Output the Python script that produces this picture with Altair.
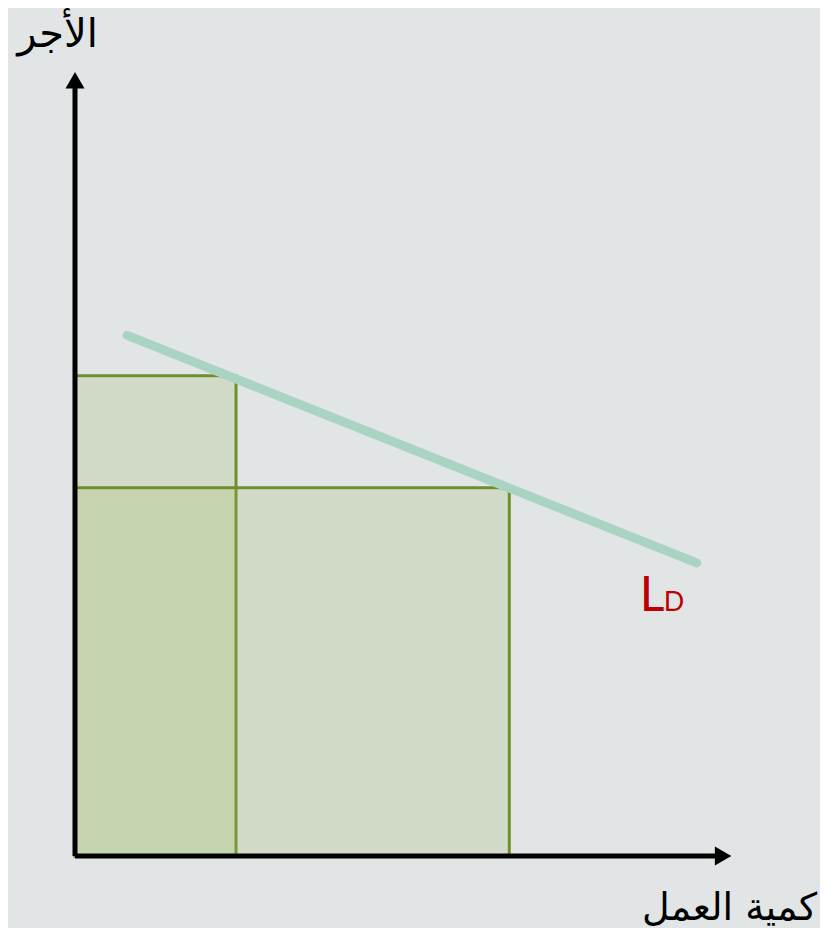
import altair as alt
import pandas as pd

# --- data ---
rect_names = ["small", "large"]
rect_quantity = [24.4, 65.8]   # labour quantity at each box's right edge
rect_wage = [60.8, 46.6]       # wage at each box's top edge

ld_quantity = [7.9, 94.2]      # labour demand curve endpoints
ld_wage = [65.9, 37.1]

axis_end = 98.2                # arrow tip region of both axes

rects = pd.DataFrame({"name": rect_names, "q0": [0, 0], "q1": rect_quantity,
                      "w0": [0, 0], "w1": rect_wage})
ld = pd.DataFrame({"q": ld_quantity, "w": ld_wage})
ld_end = pd.DataFrame({"q": [ld_quantity[-1]], "w": [ld_wage[-1]]})
y_axis_df = pd.DataFrame({"q": [0, 0], "w": [0, axis_end]})
x_axis_df = pd.DataFrame({"q": [0, axis_end], "w": [0, 0]})
y_tip = pd.DataFrame({"q": [0], "w": [axis_end]})
x_tip = pd.DataFrame({"q": [axis_end], "w": [0]})

xs = alt.Scale(domain=[0, 100], nice=False, zero=False)
ys = alt.Scale(domain=[0, 100], nice=False, zero=False)

arabic_font = "DejaVu Sans"

x_axis = alt.Axis(domain=False, ticks=False, labels=False, grid=False,
                  title="كمية العمل", titleAngle=0, titleX=654, titleY=52,
                  titleAlign="center", titleBaseline="middle",
                  titleFont=arabic_font, titleFontSize=38,
                  titleFontWeight="normal", titleColor="#000000")
y_axis = alt.Axis(domain=False, ticks=False, labels=False, grid=False,
                  title="الأجر", titleAngle=0, titleX=-18, titleY=-32,
                  titleAlign="center", titleBaseline="middle",
                  titleFont=arabic_font, titleFontSize=40,
                  titleFontWeight="normal", titleColor="#000000")

boxes = alt.Chart(rects).mark_rect(
    fill="#9bbb59", fillOpacity=0.22, stroke="#6f8f2c", strokeWidth=3
).encode(
    x=alt.X("q0:Q", scale=xs, axis=x_axis),
    x2="q1:Q",
    y=alt.Y("w0:Q", scale=ys, axis=y_axis),
    y2="w1:Q",
)

demand = alt.Chart(ld).mark_line(
    color="#a9d3c3", strokeWidth=9, strokeCap="round"
).encode(x=alt.X("q:Q", scale=xs), y=alt.Y("w:Q", scale=ys))

y_line = alt.Chart(y_axis_df).mark_line(color="#000000", strokeWidth=5).encode(
    x=alt.X("q:Q", scale=xs), y=alt.Y("w:Q", scale=ys))
x_line = alt.Chart(x_axis_df).mark_line(color="#000000", strokeWidth=5).encode(
    x=alt.X("q:Q", scale=xs), y=alt.Y("w:Q", scale=ys))

y_head = alt.Chart(y_tip).mark_point(
    shape="triangle-up", size=361, filled=True, color="#000000", opacity=1
).encode(x=alt.X("q:Q", scale=xs), y=alt.Y("w:Q", scale=ys))
x_head = alt.Chart(x_tip).mark_point(
    shape="triangle-right", size=361, filled=True, color="#000000", opacity=1
).encode(x=alt.X("q:Q", scale=xs), y=alt.Y("w:Q", scale=ys))

label_L = alt.Chart(ld_end).mark_text(
    text="L", font="Lato", fontSize=48, color="#c00000", align="left",
    baseline="alphabetic", dx=-57, dy=48
).encode(x=alt.X("q:Q", scale=xs), y=alt.Y("w:Q", scale=ys))
label_D = alt.Chart(ld_end).mark_text(
    text="D", font="Lato", fontSize=27, color="#c00000", align="left",
    baseline="alphabetic", dx=-33, dy=48
).encode(x=alt.X("q:Q", scale=xs), y=alt.Y("w:Q", scale=ys))

chart = alt.layer(
    boxes, demand, y_line, x_line, y_head, x_head, label_L, label_D
).properties(
    width=660, height=790,
    autosize=alt.AutoSizeParams(type="none"),
    padding={"left": 67, "top": 58, "right": 85, "bottom": 72},
    background="#e2e5e6",
).configure_view(stroke=None)

chart.save("out.html", embed_options={"renderer": "svg", "actions": False})
